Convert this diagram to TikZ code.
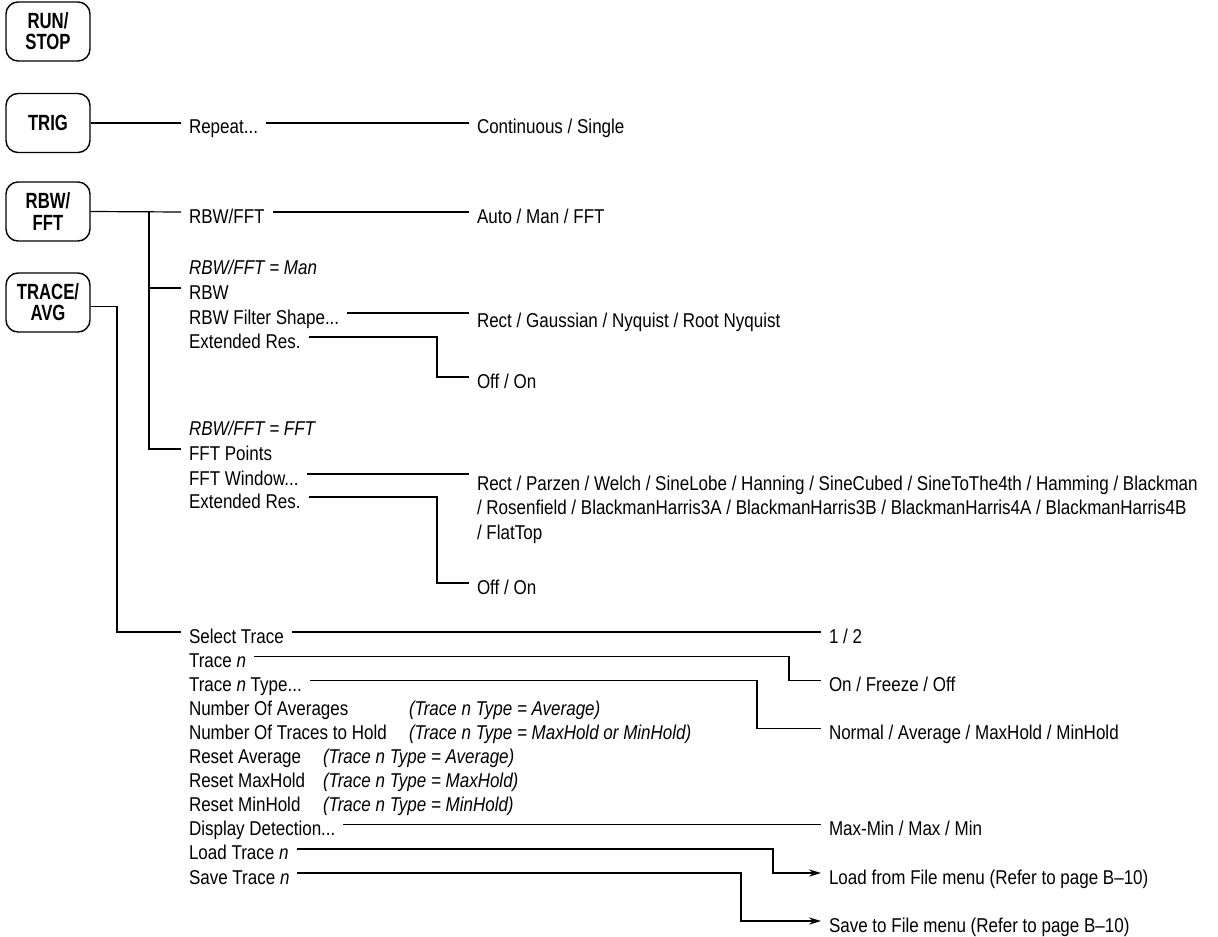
\documentclass[tikz,border=0pt]{standalone}
\usepackage{fontspec}
\setmainfont{Liberation Sans}[FakeStretch=0.85]
\newfontfamily\keyfont{Liberation Sans}[FakeStretch=0.76]
\usetikzlibrary{arrows.meta,positioning}

\begin{document}
\begin{tikzpicture}[
  x=0.5pt, y=-0.5pt,
  node distance=12.05pt,
  key/.style={draw, rounded corners=6pt, line width=0.7pt, minimum width=42pt, minimum height=29.5pt, align=center, inner sep=1pt, font=\keyfont\bfseries\fontsize{11}{10.6}\selectfont},
  item/.style={anchor=west, inner xsep=2.5pt, inner ysep=0.5pt, outer sep=1.5pt, text height=11pt, text depth=0pt, font=\fontsize{10}{12}\selectfont},
  cond/.style={item, font=\fontsize{10}{12}\selectfont\itshape},
  link/.style={line width=0.6pt},
  jump/.style={link, -{Stealth[length=6pt, width=3.6pt]}}
]
  \useasboundingbox (0,0) rectangle (1218,936);

  % front panel keys
  \node[key] (run) at (48,31.5) {RUN/\\STOP};
  \node[key] (trig) at (48,123) {TRIG};
  \node[key] (rbw) at (48,211.5) {RBW/\\FFT};
  \node[key] (trace) at (48,302.5) {TRACE/\\AVG};

  % TRIG menu
  \node[item] (repeat) at (181,123) {Repeat...};
  \node[item] (cont) at (469,123) {Continuous / Single};
  \draw[link] (trig.east) -- (repeat.west);
  \draw[link] (repeat.east) -- (cont.west);

  % RBW/FFT menu
  \node[item] (rbwfft) at (181,212) {RBW/FFT};
  \node[item] (auto) at (469,212) {Auto / Man / FFT};
  \node[cond] (manis) at (181,263) {RBW/FFT = Man};
  \node[item] (rbwsel) at (181,288) {RBW};
  \node[item] (filt) at (181,313) {RBW Filter Shape...};
  \node[item] (xres1) at (181,337) {Extended Res.};
  \node[item] (shp) at (469,316) {Rect / Gaussian / Nyquist / Root Nyquist};
  \node[item] (offon1) at (469,377) {Off / On};

  \node[cond] (fftis) at (181,424) {RBW/FFT = FFT};
  \node[item] (fftpts) at (181,449) {FFT Points};
  \node[item] (fftwin) at (181,474) {FFT Window...};
  \node[item] (xres2) at (181,497) {Extended Res.};
  \node[item] (winA) at (469,479) {Rect / Parzen / Welch / SineLobe / Hanning / SineCubed / SineToThe4th / Hamming / Blackman};
  \node[item] (winB) at (469,503.5) {/ Rosenfield / BlackmanHarris3A / BlackmanHarris3B / BlackmanHarris4A / BlackmanHarris4B};
  \node[item] (winC) at (469,528) {/ FlatTop};
  \node[item] (offon2) at (469,583) {Off / On};

  \draw[link] (rbw.east) -- (rbwfft.west);
  \draw[link] (rbwfft.west) ++(-16pt,0) |- (fftpts.west);
  \draw[link] (rbwsel.west) -- ++(-16pt,0);
  \draw[link] (rbwfft.east) -- (auto.west);
  \draw[link] (filt.east) -- (filt.east -| shp.west);
  \draw[link] (xres1.east) -| ([xshift=-16pt]offon1.west) -- (offon1.west);
  \draw[link] (fftwin.east) -- (fftwin.east -| winA.west);
  \draw[link] (xres2.east) -| ([xshift=-16pt]offon2.west) -- (offon2.west);

  % TRACE/AVG menu
  \node[item] (selt) at (181,632) {Select Trace};
  \node[item, below=of selt.west, anchor=west] (tracen) {Trace \textit{n}};
  \node[item, below=of tracen.west, anchor=west] (ttype) {Trace \textit{n} Type...};
  \node[item, below=of ttype.west, anchor=west] (navg) {Number Of Averages};
  \node[item, below=of navg.west, anchor=west] (ntrc) {Number Of Traces to Hold};
  \node[item, below=of ntrc.west, anchor=west] (ravg) {Reset Average};
  \node[item, below=of ravg.west, anchor=west] (rmax) {Reset MaxHold};
  \node[item, below=of rmax.west, anchor=west] (rmin) {Reset MinHold};
  \node[item, below=of rmin.west, anchor=west] (disp) {Display Detection...};
  \node[item, below=of disp.west, anchor=west] (load) {Load Trace \textit{n}};
  \node[item, below=of load.west, anchor=west] (save) {Save Trace \textit{n}};

  \coordinate (condA) at (401,0);
  \coordinate (condB) at (315,0);
  \node[cond] (navgc) at (navg.west -| condA) {(Trace n Type = Average)};
  \node[cond] (ntrcc) at (ntrc.west -| condA) {(Trace n Type = MaxHold or MinHold)};
  \node[cond] (ravgc) at (ravg.west -| condB) {(Trace n Type = Average)};
  \node[cond] (rmaxc) at (rmax.west -| condB) {(Trace n Type = MaxHold)};
  \node[cond] (rminc) at (rmin.west -| condB) {(Trace n Type = MinHold)};

  \coordinate (colC) at (821,0);
  \node[item] (onetwo) at (selt.west -| colC) {1 / 2};
  \node[item] (onoff) at (ttype.west -| colC) {On / Freeze / Off};
  \node[item] (ttypes) at (ntrc.west -| colC) {Normal / Average / MaxHold / MinHold};
  \node[item] (detmode) at (disp.west -| colC) {Max-Min / Max / Min};
  \node[item] (loadf) at (save.west -| colC) {Load from File menu (Refer to page B–10)};
  \node[item, below=24pt of loadf.west, anchor=west] (savef) {Save to File menu (Refer to page B–10)};

  \draw[link] ([yshift=-2pt]trace.east) -| ([xshift=-32pt]selt.west) -- (selt.west);
  \draw[link] (selt.east) -- (onetwo.west);
  \draw[link] (tracen.east) -| ([xshift=-16pt]onoff.west) -- (onoff.west);
  \draw[link] (ttype.east) -| ([xshift=-32pt]ttypes.west) -- (ttypes.west);
  \draw[link] (disp.east) -- (detmode.west);
  \draw[jump] (load.east) -| ([xshift=-24pt]loadf.west) -- (loadf.west);
  \draw[jump] (save.east) -| ([xshift=-40pt]savef.west) -- (savef.west);
\end{tikzpicture}
\end{document}
